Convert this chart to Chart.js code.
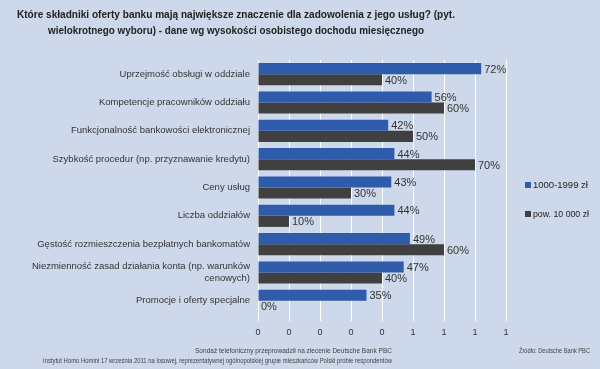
<!DOCTYPE html>
<html>
<head>
<meta charset="utf-8">
<script src="https://cdn.jsdelivr.net/npm/chart.js@4"></script>
<style>
  html, body { margin: 0; padding: 0; background: #cdd8ea; }
  #wrap { width: 600px; height: 369px; }
</style>
</head>
<body>
<div id="wrap"><canvas id="myChart" width="600" height="369"></canvas></div>
<script>
const categories = [
    'Uprzejmość obsługi w oddziale',
    'Kompetencje pracowników oddziału',
    'Funkcjonalność bankowości elektronicznej',
    'Szybkość procedur (np. przyznawanie kredytu)',
    'Ceny usług',
    'Liczba oddziałów',
    'Gęstość rozmieszczenia bezpłatnych bankomatów',
    ['Niezmienność zasad działania konta (np. warunków', 'cenowych)'],
    'Promocje i oferty specjalne'
];
const seriesNames = ['1000-1999 zł', 'pow. 10 000 zł'];
const lowIncome = [0.72, 0.56, 0.42, 0.44, 0.43, 0.44, 0.49, 0.47, 0.35];
const highIncome = [0.40, 0.60, 0.50, 0.70, 0.30, 0.10, 0.60, 0.40, 0.00];
const seriesColors = ['#2f5bab', '#404040'];
const titleLines = [
    'Które składniki oferty banku mają największe znaczenie dla zadowolenia z jego usług? (pyt.',
    'wielokrotnego wyboru) - dane wg wysokości osobistego dochodu miesięcznego'
];
const footLines = [
    'Sondaż telefoniczny przeprowadził na zlecenie Deutsche Bank PBC',
    'Instytut Homo Homini 17 września 2011 na losowej, reprezentatywnej ogólnopolskiej grupie mieszkańców Polski próbie respondentów'
];
const sourceText = 'Źródło: Deutsche Bank PBC';

const FONT = '"Liberation Sans", Arial, sans-serif';

// background, title, footer and legend
const decorPlugin = {
    id: 'decor',
    beforeDraw(chart) {
        const ctx = chart.ctx;
        ctx.save();
        ctx.fillStyle = '#cdd8ea';
        ctx.fillRect(0, 0, chart.width, chart.height);
        ctx.restore();
    },
    afterDraw(chart) {
        const ctx = chart.ctx;
        ctx.save();
        ctx.fillStyle = '#222';
        ctx.font = 'bold 11px ' + FONT;
        ctx.textAlign = 'center';
        ctx.textBaseline = 'middle';
        ctx.fillText(titleLines[0], 236, 15, 438);
        ctx.fillText(titleLines[1], 236, 31, 376);

        ctx.fillStyle = '#444';
        ctx.font = '7.5px ' + FONT;
        ctx.textAlign = 'right';
        ctx.fillText(footLines[0], 392, 351, 197);
        ctx.fillText(footLines[1], 392, 361, 349);
        ctx.textAlign = 'left';
        ctx.fillText(sourceText, 519, 351, 71);

        // legend
        ctx.font = '9.5px ' + FONT;
        for (let i = 0; i < seriesNames.length; i++) {
            let y = 185 + i * 29;
            ctx.fillStyle = seriesColors[i];
            ctx.fillRect(525, y - 3, 6, 6);
            ctx.fillStyle = '#222';
            ctx.fillText(seriesNames[i], 533, y, 56);
        }
        ctx.restore();
    }
};

// percent labels next to bars
const valueLabels = {
    id: 'valueLabels',
    afterDatasetsDraw(chart) {
        const ctx = chart.ctx;
        ctx.save();
        ctx.font = '11px ' + FONT;
        ctx.fillStyle = '#333';
        ctx.textAlign = 'left';
        ctx.textBaseline = 'middle';
        chart.data.datasets.forEach((ds, i) => {
            chart.getDatasetMeta(i).data.forEach((bar, j) => {
                ctx.fillText(Math.round(ds.data[j] * 100) + '%', bar.x + 3, bar.y + 1);
            });
        });
        ctx.restore();
    }
};

new Chart(document.getElementById('myChart').getContext('2d'), {
    type: 'bar',
    data: {
        labels: categories,
        datasets: [
            { label: seriesNames[0], data: lowIncome, backgroundColor: seriesColors[0] },
            { label: seriesNames[1], data: highIncome, backgroundColor: seriesColors[1] }
        ]
    },
    options: {
        indexAxis: 'y',
        responsive: false,
        animation: false,
        categoryPercentage: 0.78,
        barPercentage: 1,
        layout: { padding: { left: 0, right: 94, top: 60, bottom: 32 } },
        plugins: {
            legend: { display: false },
            title: { display: false },
            tooltip: { enabled: false }
        },
        scales: {
            x: {
                min: 0,
                max: 0.8,
                afterFit(scale) { scale.height = 22; },
                ticks: {
                    stepSize: 0.1,
                    padding: 6,
                    color: '#333',
                    font: { family: FONT, size: 9 },
                    callback: v => Math.round(v).toString()
                },
                grid: { color: '#ffffff', lineWidth: 1, tickLength: 6 },
                border: { display: false }
            },
            y: {
                afterFit(scale) { scale.width = 258; },
                ticks: {
                    padding: 8,
                    color: '#333',
                    font: { family: FONT, size: 9.5 }
                },
                grid: { display: false, drawTicks: false },
                border: { display: false }
            }
        }
    },
    plugins: [decorPlugin, valueLabels]
});
</script>
</body>
</html>
